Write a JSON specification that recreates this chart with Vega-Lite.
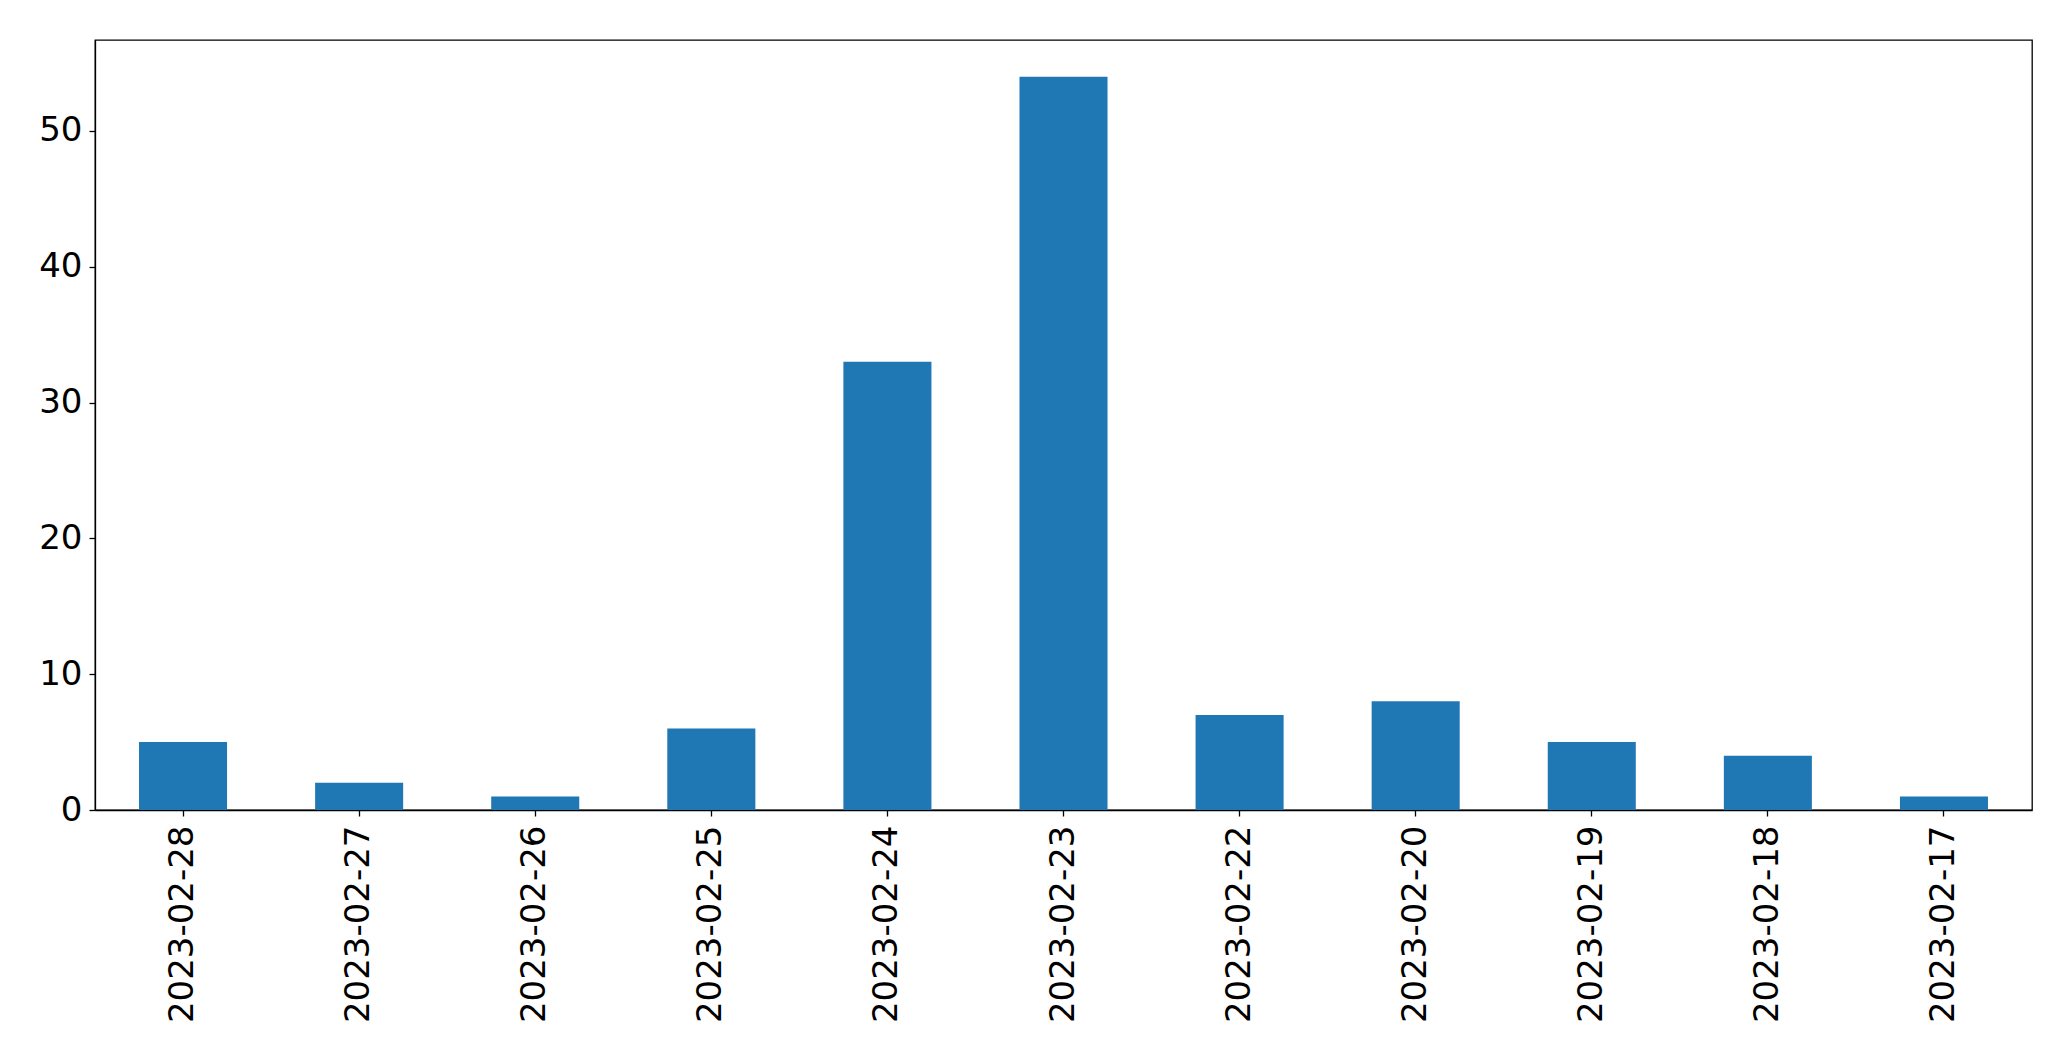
{
  "$schema": "https://vega.github.io/schema/vega-lite/v6.json",
  "width": 1937,
  "height": 770,
  "autosize": "none",
  "padding": {"left": 95, "top": 40, "right": 39, "bottom": 251},
  "background": "white",
  "config": {
    "view": {"stroke": "black", "strokeWidth": 1.3},
    "font": "DejaVu Sans",
    "axis": {
      "labelFont": "DejaVu Sans",
      "labelFontSize": 34,
      "labelColor": "black",
      "domainColor": "black",
      "domainWidth": 1.3,
      "tickColor": "black",
      "tickWidth": 1.3,
      "tickSize": 6,
      "grid": false,
      "title": null
    }
  },
  "data": {
    "values": [
      {"date": "2023-02-28", "count": 5},
      {"date": "2023-02-27", "count": 2},
      {"date": "2023-02-26", "count": 1},
      {"date": "2023-02-25", "count": 6},
      {"date": "2023-02-24", "count": 33},
      {"date": "2023-02-23", "count": 54},
      {"date": "2023-02-22", "count": 7},
      {"date": "2023-02-20", "count": 8},
      {"date": "2023-02-19", "count": 5},
      {"date": "2023-02-18", "count": 4},
      {"date": "2023-02-17", "count": 1}
    ]
  },
  "mark": {"type": "bar", "color": "#1f77b4"},
  "encoding": {
    "x": {
      "field": "date",
      "type": "nominal",
      "sort": null,
      "scale": {"paddingInner": 0.5, "paddingOuter": 0.25},
      "axis": {"labelAngle": -90, "labelPadding": 9, "labelLimit": 0}
    },
    "y": {
      "field": "count",
      "type": "quantitative",
      "scale": {"domain": [0, 56.7], "nice": false, "zero": true},
      "axis": {"values": [0, 10, 20, 30, 40, 50], "labelPadding": 7}
    }
  }
}
